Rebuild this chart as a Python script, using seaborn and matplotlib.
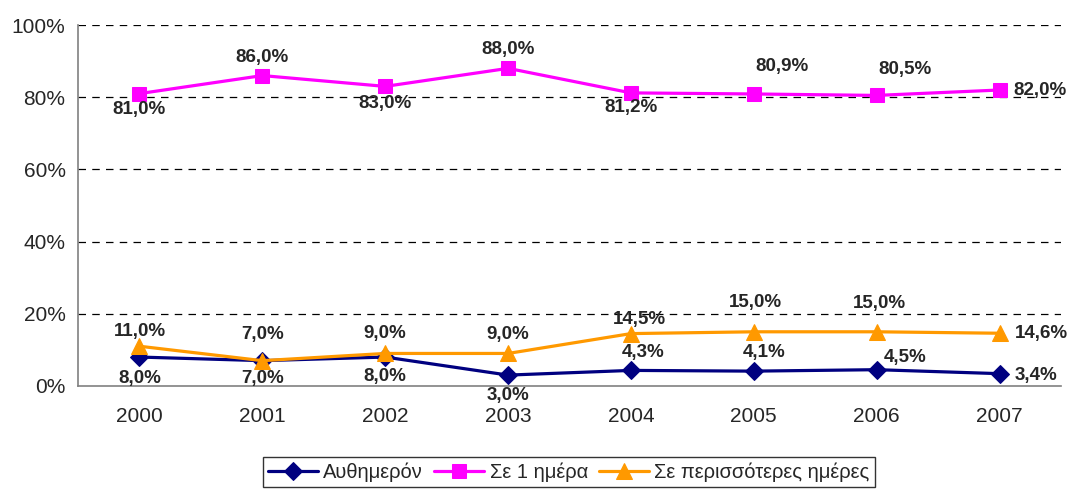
import pandas as pd
import seaborn as sns
import matplotlib.pyplot as plt
from matplotlib.ticker import FuncFormatter, FixedLocator

years = ["2000", "2001", "2002", "2003", "2004", "2005", "2006", "2007"]
same_day = [8.0, 7.0, 8.0, 3.0, 4.3, 4.1, 4.5, 3.4]
one_day = [81.0, 86.0, 83.0, 88.0, 81.2, 80.9, 80.5, 82.0]
more_days = [11.0, 7.0, 9.0, 9.0, 14.5, 15.0, 15.0, 14.6]
series_names = ["Αυθημερόν", "Σε 1 ημέρα", "Σε περισσότερες ημέρες"]

# label offsets in pixels (dx, dy) for each point
off_same = [(0, -21), (0, -18), (0, -19), (0, -20), (12, 18), (10, 19), (28, 12), (36, -2)]
off_one = [(0, -16), (0, 18), (0, -17), (0, 19), (0, -15), (28, 27), (28, 26), (40, 0)]
off_more = [(0, 15), (0, 26), (0, 20), (0, 19), (8, 14), (2, 29), (3, 28), (42, 0)]

sns.set_style("white")
plt.rcParams["font.family"] = ["Liberation Sans", "DejaVu Sans"]

df = pd.DataFrame({
    "x": list(range(len(years))) * 3,
    "value": same_day + one_day + more_days,
    "series": [series_names[0]] * 8 + [series_names[1]] * 8 + [series_names[2]] * 8,
})

colors = {series_names[0]: "#000080", series_names[1]: "#FF00FF", series_names[2]: "#FF9900"}
markers = {series_names[0]: "D", series_names[1]: "s", series_names[2]: "^"}
msizes = {series_names[0]: 9, series_names[1]: 10, series_names[2]: 11}

fig = plt.figure(figsize=(10.69, 4.91), dpi=100)
ax = fig.add_axes([0.073, 0.214, 0.9195, 0.735])

for name in series_names:
    sub = df[df["series"] == name]
    sns.lineplot(data=sub, x="x", y="value", ax=ax, color=colors[name], marker=markers[name],
                 markersize=msizes[name], markeredgecolor=colors[name], linewidth=2.3,
                 label=name, zorder=3)

for vals, offs in [(same_day, off_same), (one_day, off_one), (more_days, off_more)]:
    for i, (v, (dx, dy)) in enumerate(zip(vals, offs)):
        ax.annotate(f"{v:.1f}%".replace(".", ","), (i, v), xytext=(dx, dy),
                    textcoords="offset pixels", ha="center", va="center",
                    fontsize=13.5, fontweight="bold", zorder=5)

ax.set_xlim(-0.5, len(years) - 0.5)
ax.set_ylim(0, 100)
ax.set_yticks([0, 20, 40, 60, 80, 100])
ax.yaxis.set_major_formatter(FuncFormatter(lambda v, p: f"{int(v)}%"))
ax.set_xticks(range(len(years)))
ax.set_xticklabels(years)
ax.xaxis.set_minor_locator(FixedLocator([i - 0.5 for i in range(len(years) + 1)]))
ax.tick_params(axis="x", which="major", length=0, pad=15, labelsize=15)
ax.tick_params(axis="x", which="minor", length=6, width=1, color="#808080", direction="out")
ax.tick_params(axis="y", length=6, width=1, color="#808080", direction="out", labelsize=15, pad=3)
ax.set_xlabel("")
ax.set_ylabel("")

for y in [20, 40, 60, 80, 100]:
    ax.axhline(y, color="black", linestyle=(0, (6, 5)), linewidth=0.9, zorder=1)

for s in ["top", "right"]:
    ax.spines[s].set_visible(False)
for s in ["left", "bottom"]:
    ax.spines[s].set_color("#808080")
    ax.spines[s].set_linewidth(1.2)

ax.get_legend().remove()
handles, labels = ax.get_legend_handles_labels()
leg = fig.legend(handles, labels, loc="lower center", bbox_to_anchor=(0.532, 0.0), ncol=3,
                 frameon=True, fancybox=False, fontsize=14.5, handlelength=2.5,
                 handletextpad=0.25, columnspacing=0.55, borderpad=0.25, borderaxespad=0.2)
leg.get_frame().set_edgecolor("black")
leg.get_frame().set_linewidth(1.0)

fig.savefig("out.png", dpi=100, facecolor="white")
